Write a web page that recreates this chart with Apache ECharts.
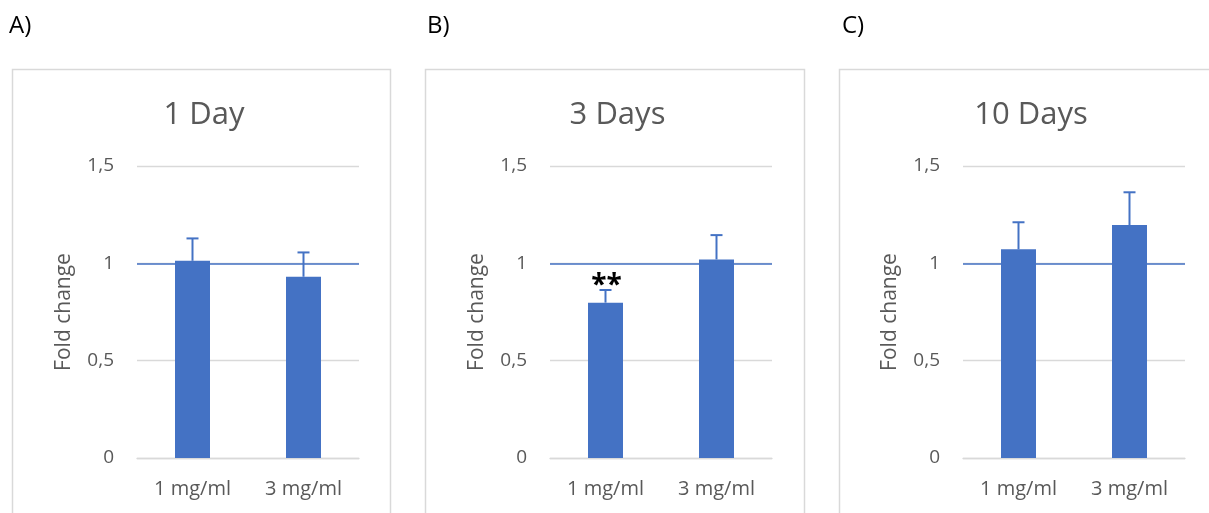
<!DOCTYPE html>
<html>
<head>
<meta charset="utf-8">
<script src="https://cdn.jsdelivr.net/npm/echarts@6/dist/echarts.min.js"></script>
<style>
  html, body { margin: 0; padding: 0; background: #ffffff; }
  #chart { width: 1209px; height: 513px; }
</style>
</head>
<body>
<div id="chart"></div>
<script>
// ---- Data ----
const categories = ['1 mg/ml', '3 mg/ml'];
const panelTitles = ['1 Day', '3 Days', '10 Days'];
const panelLetters = ['A)', 'B)', 'C)'];
const yAxisName = 'Fold change';
const yMin = 0;
const yMax = 1.5;
const yInterval = 0.5;
const referenceValue = 1;

const valuesDay1 = [1.013, 0.931];
const errorsDay1 = [0.115, 0.125];
const annotationsDay1 = ['', ''];

const valuesDay3 = [0.798, 1.02];
const errorsDay3 = [0.065, 0.125];
const annotationsDay3 = ['**', ''];

const valuesDay10 = [1.072, 1.197];
const errorsDay10 = [0.139, 0.168];
const annotationsDay10 = ['', ''];

// ---- Layout / style ----
const panels = [
  { values: valuesDay1, errors: errorsDay1, notes: annotationsDay1 },
  { values: valuesDay3, errors: errorsDay3, notes: annotationsDay3 },
  { values: valuesDay10, errors: errorsDay10, notes: annotationsDay10 }
];
const gridLefts = [137, 550, 963];
const gridWidth = 222;
const gridTop = 166;
const gridHeight = 292;
const boxLefts = [10, 423, 837];
const boxWidths = [378, 379, 378];
const letterLefts = [9, 427, 842];
const blue = '#4472C4';
const textGray = '#595959';
const lineGray = '#D9D9D9';
const fontFam = '"Open Sans", "Noto Sans", sans-serif';

const chart = echarts.init(document.getElementById('chart'), null, { renderer: 'canvas' });

const grid = [], xAxis = [], yAxis = [], series = [], title = [], graphic = [];

panels.forEach((p, i) => {
  grid.push({ left: gridLefts[i], top: gridTop, width: gridWidth, height: gridHeight, containLabel: false });
  xAxis.push({
    type: 'category', gridIndex: i, data: categories,
    axisLine: { show: true, lineStyle: { color: lineGray, width: 1.3 } },
    axisTick: { show: false },
    axisLabel: { color: textGray, fontSize: 20, fontFamily: fontFam, margin: 21 }
  });
  yAxis.push({
    type: 'value', gridIndex: i, min: yMin, max: yMax, interval: yInterval,
    name: yAxisName, nameLocation: 'middle', nameRotate: 90, nameGap: 62,
    nameTextStyle: { color: textGray, fontSize: 21, fontFamily: fontFam },
    axisLine: { show: false }, axisTick: { show: false },
    axisLabel: {
      color: textGray, fontSize: 19, fontFamily: fontFam, margin: 23,
      formatter: v => String(v).replace('.', ',')
    },
    splitLine: { show: true, lineStyle: { color: lineGray, width: 1.3 } }
  });
  series.push({
    type: 'bar', xAxisIndex: i, yAxisIndex: i, data: p.values,
    barWidth: 35, z: 3,
    itemStyle: { color: blue },
    silent: true,
    markLine: {
      z: 1, silent: true, symbol: 'none',
      label: { show: false },
      lineStyle: { color: blue, width: 1.6, type: 'solid' },
      data: [{ yAxis: referenceValue }]
    }
  });
  series.push({
    type: 'custom', xAxisIndex: i, yAxisIndex: i, z: 4, silent: true,
    data: p.values.map((v, k) => [k, v, p.errors[k]]),
    renderItem: function (params, api) {
      const k = api.value(0);
      const top = api.coord([k, api.value(1) + api.value(2)]);
      const base = api.coord([k, api.value(1)]);
      const cap = 6;
      const children = [
        { type: 'line', shape: { x1: top[0], y1: base[1], x2: top[0], y2: top[1] },
          style: { stroke: blue, lineWidth: 2 } },
        { type: 'line', shape: { x1: top[0] - cap, y1: top[1], x2: top[0] + cap, y2: top[1] },
          style: { stroke: blue, lineWidth: 2 } }
      ];
      const note = p.notes[k];
      if (note) {
        children.push({
          type: 'text',
          style: { text: note, x: top[0] + 1, y: top[1] + 10, align: 'center', verticalAlign: 'bottom',
                   fill: '#000', fontSize: 28, fontFamily: fontFam, fontWeight: 'bold' }
        });
      }
      return { type: 'group', children: children };
    }
  });
  title.push({
    text: panelTitles[i],
    left: boxLefts[i] + boxWidths[i] / 2, top: 95,
    textAlign: 'center',
    textStyle: { color: textGray, fontSize: 31, fontWeight: 'normal', fontFamily: fontFam }
  });
  graphic.push({
    type: 'rect', left: boxLefts[i], top: 67, silent: true, z: -1,
    shape: { width: boxWidths[i] + (i === 2 ? 40 : 0), height: 470 },
    style: { fill: 'none', stroke: lineGray, lineWidth: 1.5 }
  });
  graphic.push({
    type: 'text', left: letterLefts[i], top: 14,
    style: { text: panelLetters[i], fill: '#000', fontSize: 24, fontFamily: fontFam }
  });
});

chart.setOption({
  backgroundColor: '#ffffff',
  animation: false,
  title: title,
  grid: grid,
  xAxis: xAxis,
  yAxis: yAxis,
  series: series,
  graphic: graphic
});
</script>
</body>
</html>
